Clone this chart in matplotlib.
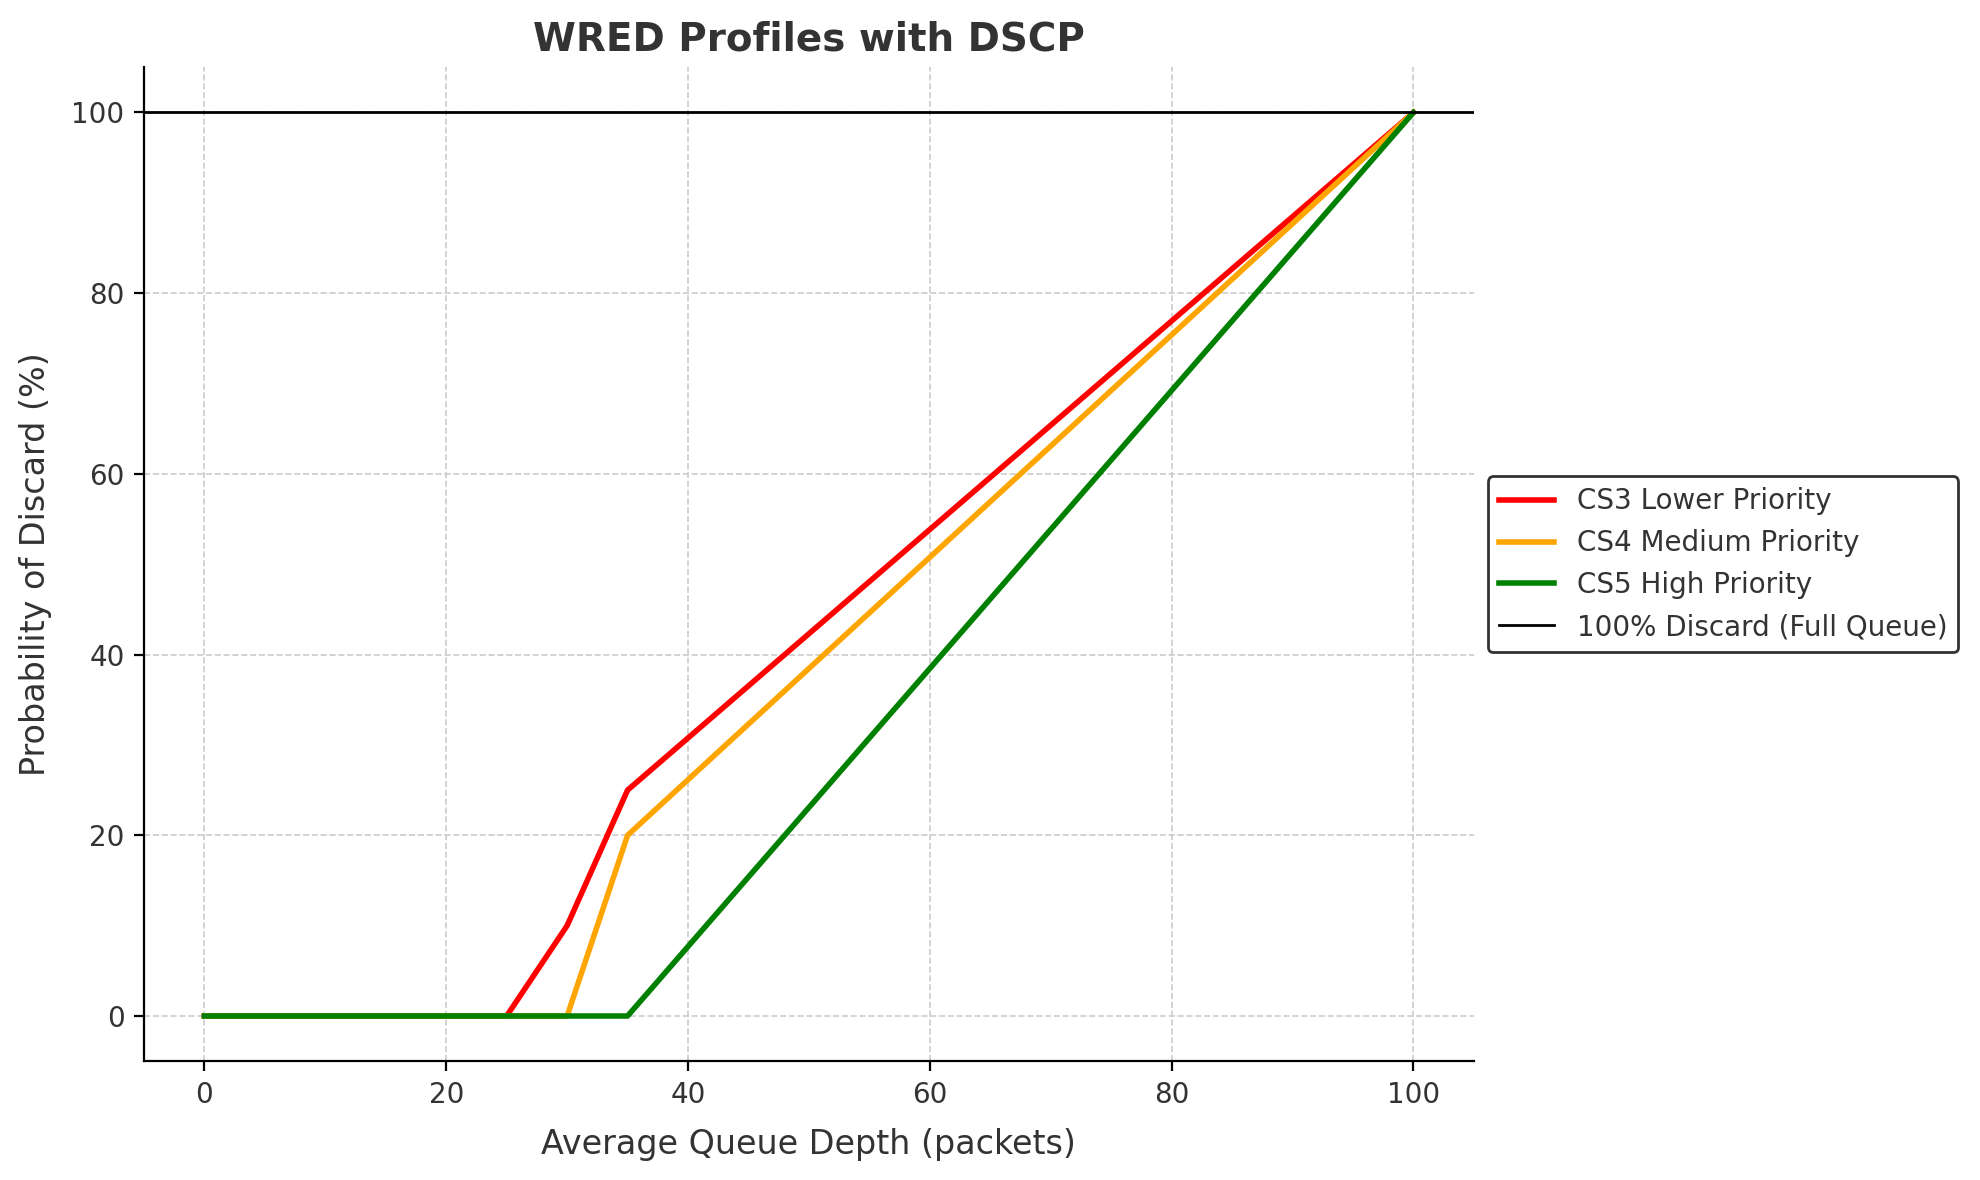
import numpy as np
import matplotlib
matplotlib.use("Agg")
import matplotlib.pyplot as plt

# data
cs3_x = [0, 25, 30, 35, 100]
cs3_y = [0, 0, 10, 25, 100]
cs4_x = [0, 30, 35, 100]
cs4_y = [0, 0, 20, 100]
cs5_x = [0, 35, 100]
cs5_y = [0, 0, 100]
full_discard = 100

labels = ["CS3 Lower Priority", "CS4 Medium Priority", "CS5 High Priority",
          "100% Discard (Full Queue)"]
colors = ["red", "orange", "green"]

txt = "#333333"
plt.rcParams["font.family"] = "DejaVu Sans"
plt.rcParams["text.color"] = txt
plt.rcParams["axes.labelcolor"] = txt
plt.rcParams["xtick.color"] = txt
plt.rcParams["ytick.color"] = txt

fig = plt.figure(figsize=(9.9, 5.9), dpi=200)
ax = fig.add_axes([0.0727, 0.1007, 0.6717, 0.8423])

ax.plot(cs3_x, cs3_y, color=colors[0], lw=2, label=labels[0])
ax.plot(cs4_x, cs4_y, color=colors[1], lw=2, label=labels[1])
ax.plot(cs5_x, cs5_y, color=colors[2], lw=2, label=labels[2])
ax.axhline(full_discard, color="black", lw=1, label=labels[3])

ax.set_xlim(-5, 105)
ax.set_ylim(-5, 105)
ax.set_xticks([0, 20, 40, 60, 80, 100])
ax.set_yticks([0, 20, 40, 60, 80, 100])
ax.grid(True, ls="--", color="#cccccc", lw=0.6)
ax.set_axisbelow(True)
for s in ["top", "right"]:
    ax.spines[s].set_visible(False)
for s in ["left", "bottom"]:
    ax.spines[s].set_color("black")
ax.tick_params(labelsize=10, color="black")

ax.set_title("WRED Profiles with DSCP", fontsize=14, fontweight="bold", color=txt)
ax.set_xlabel("Average Queue Depth (packets)", fontsize=12, labelpad=7)
ax.set_ylabel("Probability of Discard (%)", fontsize=12, labelpad=7)

leg = ax.legend(loc="center left", bbox_to_anchor=(1.0, 0.5), fontsize=10,
                edgecolor="#333333", fancybox=True, framealpha=1)
leg.get_frame().set_linewidth(1)

fig.savefig("out.png", dpi=200)
